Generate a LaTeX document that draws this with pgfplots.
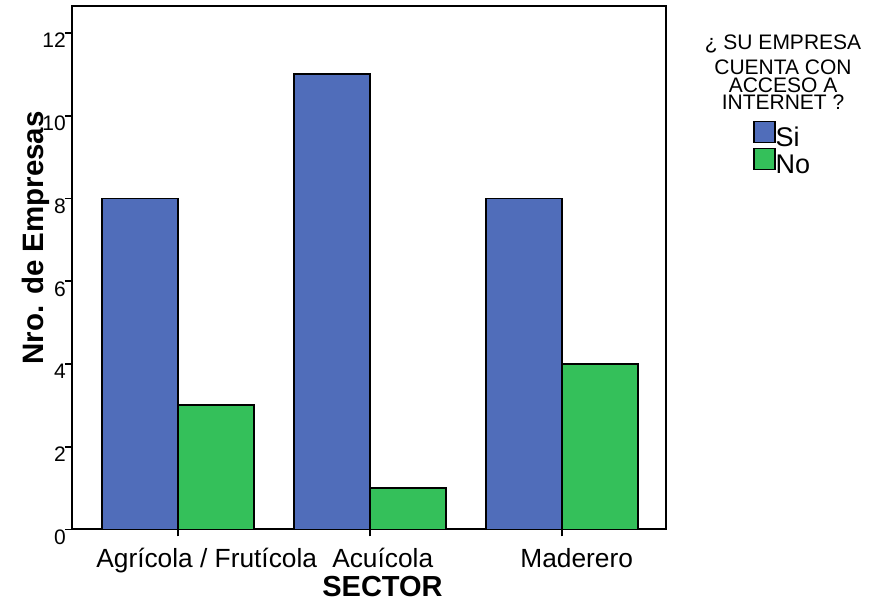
\documentclass[border=0pt]{standalone}
\usepackage{pgfplots}
\pgfplotsset{compat=1.18}
\usepackage{fontspec}
\setmainfont{Liberation Sans}
\definecolor{siblue}{RGB}{80,109,186}
\definecolor{nogreen}{RGB}{52,192,90}
\pgfplotsset{
  boxlegend/.style={legend image code/.code={\draw[##1,draw=black,line width=1.6pt] (0pt,-5pt) rectangle (21pt,16pt);}}
}
\begin{document}
\begin{tikzpicture}
\useasboundingbox (-72pt,-75.5pt) rectangle (812pt,529.5pt);
\begin{axis}[
  at={(0pt,0pt)}, anchor=south west,
  scale only axis, width=594pt, height=523pt,
  clip=false,
  xmin=-0.5505, xmax=2.543, ymin=0, ymax=12.64,
  ybar=0pt, bar width=76pt,
  xtick={0,1,2},
  xticklabels={{\hspace*{58pt}Agrícola / Frutícola},{\hspace*{26pt}Acuícola},{\hspace*{30pt}Maderero}},
  ytick={0,2,4,6,8,10,12},
  tick align=outside, tick pos=left,
  major tick length=7pt,
  axis line style={line width=2pt},
  tick style={line width=1.8pt, black},
  xticklabel style={font=\fontsize{26.3}{30}\selectfont, anchor=base, yshift=-31.5pt},
  yticklabel style={font=\fontsize{21}{24}\selectfont, anchor=north east, inner sep=0pt, xshift=1pt},
  /pgf/number format/assume math mode=true,
  xlabel={SECTOR},
  ylabel={Nro. de Empresas},
  every axis x label/.style={at={(axis description cs:0.5227,-0.129)}, anchor=base, font=\bfseries\fontsize{29}{30}\selectfont},
  every axis y label/.style={at={(axis description cs:-0.0488,0.5574)}, rotate=90, anchor=base, font=\bfseries\fontsize{29.5}{30}\selectfont},
  legend style={draw=none, fill=none, at={(axis description cs:1.1465,0.782)}, anchor=north west,
    font=\fontsize{27}{27}\selectfont, inner sep=0pt, outer sep=0pt, row sep=0pt,
    nodes={inner sep=0pt, outer sep=0pt},
    /tikz/every even column/.append style={column sep=3pt}},
  legend cell align=left,
]
\addplot[fill=siblue, draw=black, line width=1.8pt, boxlegend] coordinates {(0,8) (1,11) (2,8)};
\addplot[fill=nogreen, draw=black, line width=1.8pt, boxlegend] coordinates {(0,3) (1,1) (2,4)};
\legend{Si, No}
\node[anchor=north, align=center, inner sep=0pt, font=\fontsize{21}{17.4}\selectfont] at (axis description cs:1.197,0.9455) {¿ SU EMPRESA\\[5.8pt]CUENTA CON\\ACCESO A\\INTERNET ?};
\end{axis}
\end{tikzpicture}
\end{document}
